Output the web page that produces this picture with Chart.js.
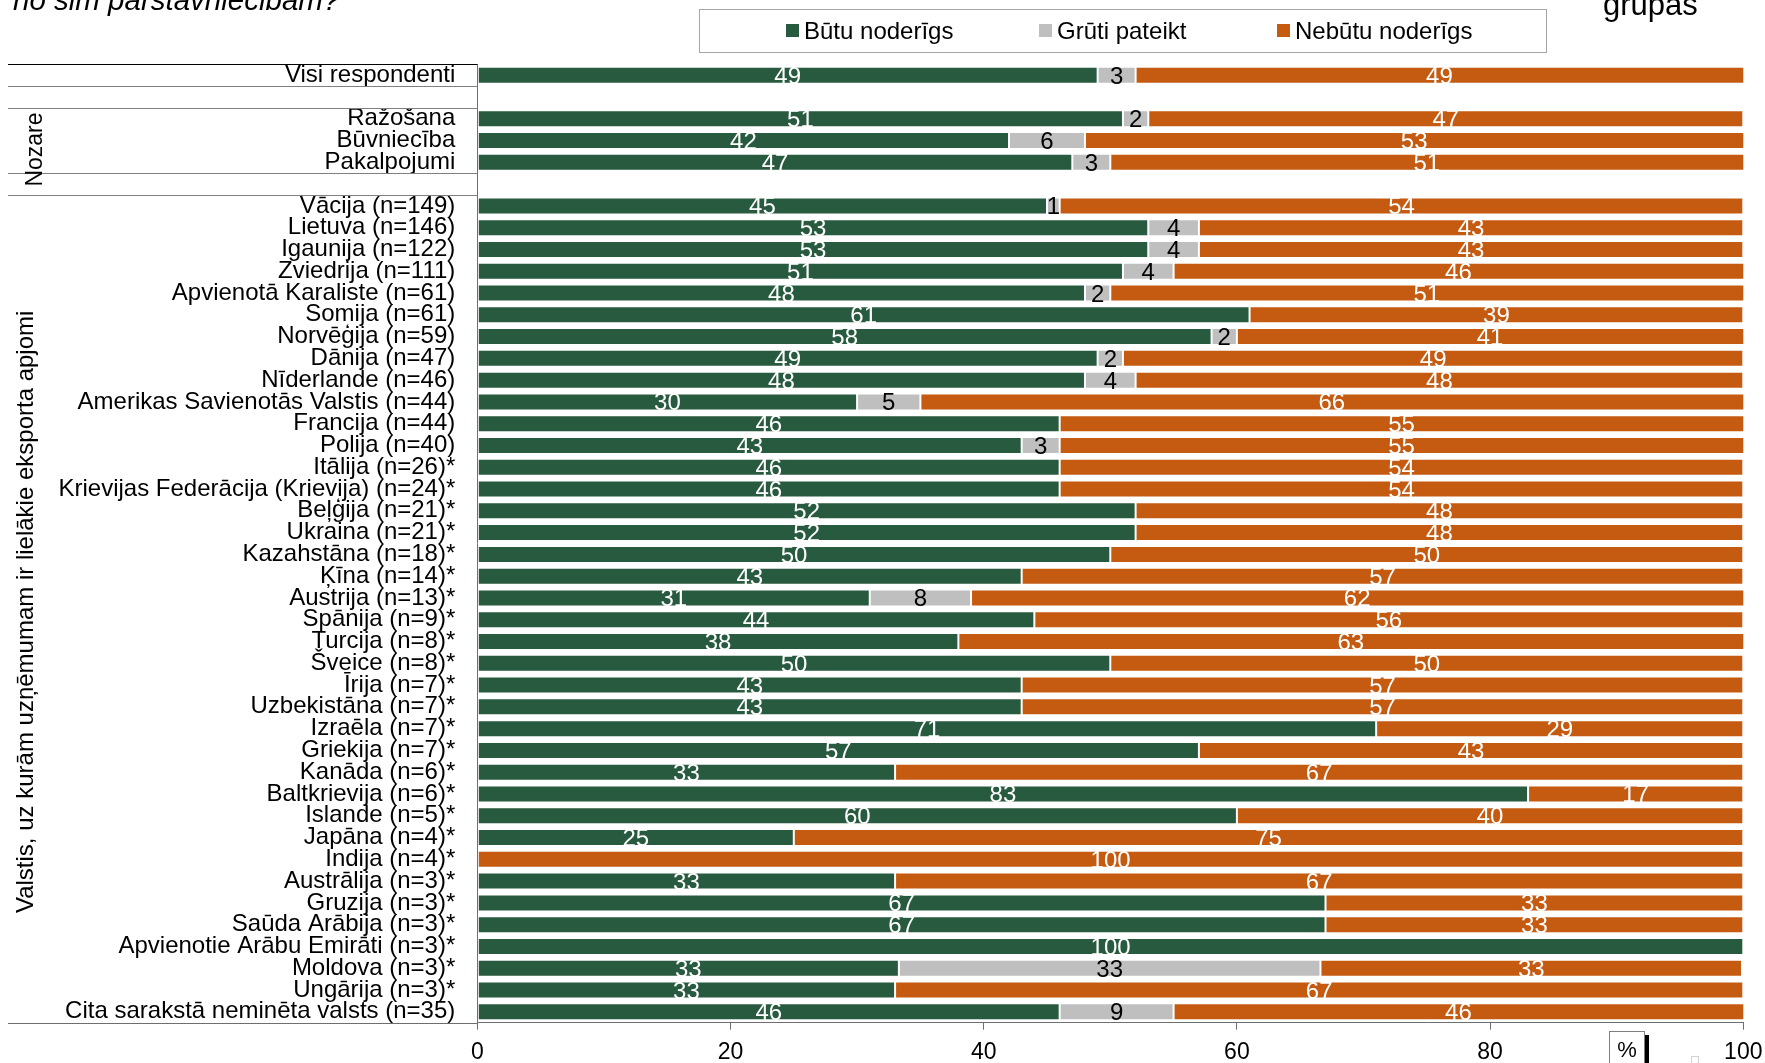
<!DOCTYPE html>
<html lang="lv">
<head>
<meta charset="utf-8">
<title>Pārstāvniecību noderīgums</title>
<script src="https://cdn.jsdelivr.net/npm/chart.js@4/dist/chart.umd.min.js"></script>
<style>
  html, body { margin: 0; padding: 0; background: #fff; overflow: hidden; }
  #wrap { position: relative; width: 1765px; height: 1063px; }
</style>
</head>
<body>
<div id="wrap"><canvas id="myChart"></canvas></div>
<script>
// rows of the chart, blank strings are spacer rows between the groups
const rowLabels = [
  "Visi respondenti", "",
  "Ražošana", "Būvniecība", "Pakalpojumi", "",
  "Vācija (n=149)", "Lietuva (n=146)", "Igaunija (n=122)", "Zviedrija (n=111)",
  "Apvienotā Karaliste (n=61)", "Somija (n=61)", "Norvēģija (n=59)", "Dānija (n=47)",
  "Nīderlande (n=46)", "Amerikas Savienotās Valstis (n=44)", "Francija (n=44)", "Polija (n=40)",
  "Itālija (n=26)*", "Krievijas Federācija (Krievija) (n=24)*", "Beļģija (n=21)*", "Ukraina (n=21)*",
  "Kazahstāna (n=18)*", "Ķīna (n=14)*", "Austrija (n=13)*", "Spānija (n=9)*",
  "Turcija (n=8)*", "Šveice (n=8)*", "Īrija (n=7)*", "Uzbekistāna (n=7)*",
  "Izraēla (n=7)*", "Griekija (n=7)*", "Kanāda (n=6)*", "Baltkrievija (n=6)*",
  "Islande (n=5)*", "Japāna (n=4)*", "Indija (n=4)*", "Austrālija (n=3)*",
  "Gruzija (n=3)*", "Saūda Arābija (n=3)*", "Apvienotie Arābu Emirāti (n=3)*", "Moldova (n=3)*",
  "Ungārija (n=3)*", "Cita sarakstā neminēta valsts (n=35)"
];

// percentages
const usefulValues = [
  49, null,
  51, 42, 47, null,
  45, 53, 53, 51, 48, 61, 58, 49, 48, 30,
  46, 43, 46, 46, 52, 52, 50, 43, 31, 44,
  38, 50, 43, 43, 71, 57, 33, 83, 60, 25,
  0, 33, 67, 67, 100, 33.3, 33, 46
];
const hardToSayValues = [
  3, null,
  2, 6, 3, null,
  1, 4, 4, 4, 2, 0, 2, 2, 4, 5,
  0, 3, 0, 0, 0, 0, 0, 0, 8, 0,
  0, 0, 0, 0, 0, 0, 0, 0, 0, 0,
  0, 0, 0, 0, 0, 33.3, 0, 9
];
const notUsefulValues = [
  49, null,
  47, 53, 51, null,
  54, 43, 43, 46, 51, 39, 41, 49, 48, 66,
  55, 55, 54, 54, 48, 48, 50, 57, 62, 56,
  63, 50, 57, 57, 29, 43, 67, 17, 40, 75,
  100, 67, 33, 33, 0, 33.3, 67, 46
];

const seriesNames = ["Būtu noderīgs", "Grūti pateikt", "Nebūtu noderīgs"];
const xTicks = [0, 20, 40, 60, 80, 100];

const FONT = "'Liberation Sans', Arial, sans-serif";
const GREEN = "#275a3e";
const GREY = "#bfbfbf";
const ORANGE = "#c55a11";
const AXIS = "#6e6e6e";

Chart.defaults.font.family = FONT;
Chart.defaults.color = "#000";

function makeSet(label, values, color) {
  return {
    label: label,
    data: values,
    backgroundColor: color,
    borderColor: "rgba(255,255,255,0.25)",
    borderWidth: 1,
    borderSkipped: false,
    barPercentage: 0.78,
    categoryPercentage: 1,
    clip: 0
  };
}

// numbers inside the bar segments
const segmentLabels = {
  id: "segmentLabels",
  afterDatasetsDraw(chart) {
    const { ctx, chartArea } = chart;
    ctx.save();
    ctx.font = "24px " + FONT;
    ctx.textAlign = "center";
    ctx.textBaseline = "alphabetic";
    chart.data.datasets.forEach((ds, i) => {
      const meta = chart.getDatasetMeta(i);
      meta.data.forEach((bar, j) => {
        const v = ds.data[j];
        if (!v) return;
        const left = Math.max(Math.min(bar.base, bar.x), chartArea.left);
        const right = Math.min(Math.max(bar.base, bar.x), chartArea.right);
        ctx.fillStyle = i === 1 ? "#000" : "#fff";
        ctx.fillText(String(Math.round(v)), (left + right) / 2, bar.y + 8.5);
      });
    });
    ctx.restore();
  }
};

// group separators, group titles, legend and the captions around the plot
const frame = {
  id: "frame",
  afterDraw(chart) {
    const { ctx, chartArea, scales } = chart;
    const y = scales.y;
    const edge = i => (y.getPixelForValue(i - 1) + y.getPixelForValue(i)) / 2;
    const crisp = v => Math.round(v) + 0.5;
    const lineLeft = 8;

    ctx.save();
    ctx.lineWidth = 1;

    // top rule
    ctx.strokeStyle = "#000";
    ctx.beginPath();
    ctx.moveTo(lineLeft, crisp(chartArea.top));
    ctx.lineTo(chartArea.left, crisp(chartArea.top));
    ctx.stroke();

    // rules between groups
    ctx.strokeStyle = "#808080";
    [1, 2, 5, 6].forEach(i => {
      ctx.beginPath();
      ctx.moveTo(lineLeft, crisp(edge(i)));
      ctx.lineTo(chartArea.left, crisp(edge(i)));
      ctx.stroke();
    });

    // x axis line carried under the label panel
    ctx.strokeStyle = AXIS;
    ctx.beginPath();
    ctx.moveTo(lineLeft, crisp(chartArea.bottom));
    ctx.lineTo(chartArea.left, crisp(chartArea.bottom));
    ctx.stroke();

    // rotated group titles
    ctx.fillStyle = "#000";
    ctx.textAlign = "center";
    ctx.textBaseline = "alphabetic";

    ctx.save();
    ctx.font = "23px " + FONT;
    ctx.translate(42, (edge(2) + edge(5)) / 2 + 9);
    ctx.rotate(-Math.PI / 2);
    ctx.fillText("Nozare", 0, 0);
    ctx.restore();

    ctx.save();
    ctx.font = "24px " + FONT;
    ctx.translate(33, (edge(6) + chartArea.bottom) / 2 + 3);
    ctx.rotate(-Math.PI / 2);
    ctx.fillText("Valstis, uz kurām uzņēmumam ir lielākie eksporta apjomi", 0, 0);
    ctx.restore();

    // legend
    ctx.fillStyle = "#fff";
    ctx.fillRect(699, 9, 847, 43);
    ctx.strokeStyle = "#a6a6a6";
    ctx.strokeRect(699.5, 9.5, 847, 43);
    const legendX = [786, 1039, 1277];
    ctx.font = "24px " + FONT;
    ctx.textAlign = "left";
    chart.data.datasets.forEach((ds, i) => {
      ctx.fillStyle = ds.backgroundColor;
      ctx.fillRect(legendX[i], 24, 13, 13);
      ctx.fillStyle = "#000";
      ctx.fillText(ds.label, legendX[i] + 18, 39);
    });

    // question text running off the top edge
    ctx.font = "italic 29.5px " + FONT;
    ctx.fillText("no šīm pārstāvniecībām?", 13, 10);
    ctx.font = "31px " + FONT;
    ctx.fillText("grupas", 1603, 15);

    // unit box in the lower right corner
    ctx.fillStyle = "#000";
    ctx.fillRect(1644, 1035, 5, 30);
    ctx.fillStyle = "#fff";
    ctx.fillRect(1609, 1031, 35, 34);
    ctx.strokeStyle = "#7f7f7f";
    ctx.strokeRect(1609.5, 1031.5, 35, 34);
    ctx.fillStyle = "#000";
    ctx.font = "22px " + FONT;
    ctx.textAlign = "center";
    ctx.fillText("%", 1627, 1057);

    ctx.strokeStyle = "#cfd6d2";
    ctx.strokeRect(1691.5, 1056.5, 7, 7);

    ctx.restore();
  }
};

const data = {
  labels: rowLabels,
  datasets: [
    makeSet(seriesNames[0], usefulValues, GREEN),
    makeSet(seriesNames[1], hardToSayValues, GREY),
    makeSet(seriesNames[2], notUsefulValues, ORANGE)
  ]
};

const config = {
  type: "bar",
  data: data,
  options: {
    indexAxis: "y",
    responsive: true,
    maintainAspectRatio: false,
    animation: false,
    layout: { padding: { top: 64.3, right: 21.7, bottom: 0, left: 0 } },
    plugins: {
      legend: { display: false },
      tooltip: { enabled: false }
    },
    scales: {
      x: {
        stacked: true,
        min: 0,
        max: 100,
        afterBuildTicks: scale => {
          scale.ticks = xTicks.map(v => ({ value: v }));
        },
        ticks: { font: { size: 23 }, color: "#000", padding: 9, maxRotation: 0 },
        grid: { drawOnChartArea: false, drawTicks: true, tickLength: 7, color: AXIS },
        border: { display: true, color: AXIS },
        afterFit: scale => {
          scale.height = 40.3;
          scale.paddingLeft = 0;
          scale.paddingRight = 0;
        }
      },
      y: {
        stacked: true,
        ticks: { font: { size: 24 }, color: "#000", padding: 22, autoSkip: false },
        grid: { display: false, drawTicks: false },
        border: { display: true, color: AXIS },
        afterFit: scale => {
          scale.width = 477.3;
          scale.paddingTop = 0;
          scale.paddingBottom = 0;
        }
      }
    }
  },
  plugins: [segmentLabels, frame]
};

let canvasChart = document.getElementById("myChart").getContext("2d");
const myChart = new Chart(canvasChart, config);
</script>
</body>
</html>
